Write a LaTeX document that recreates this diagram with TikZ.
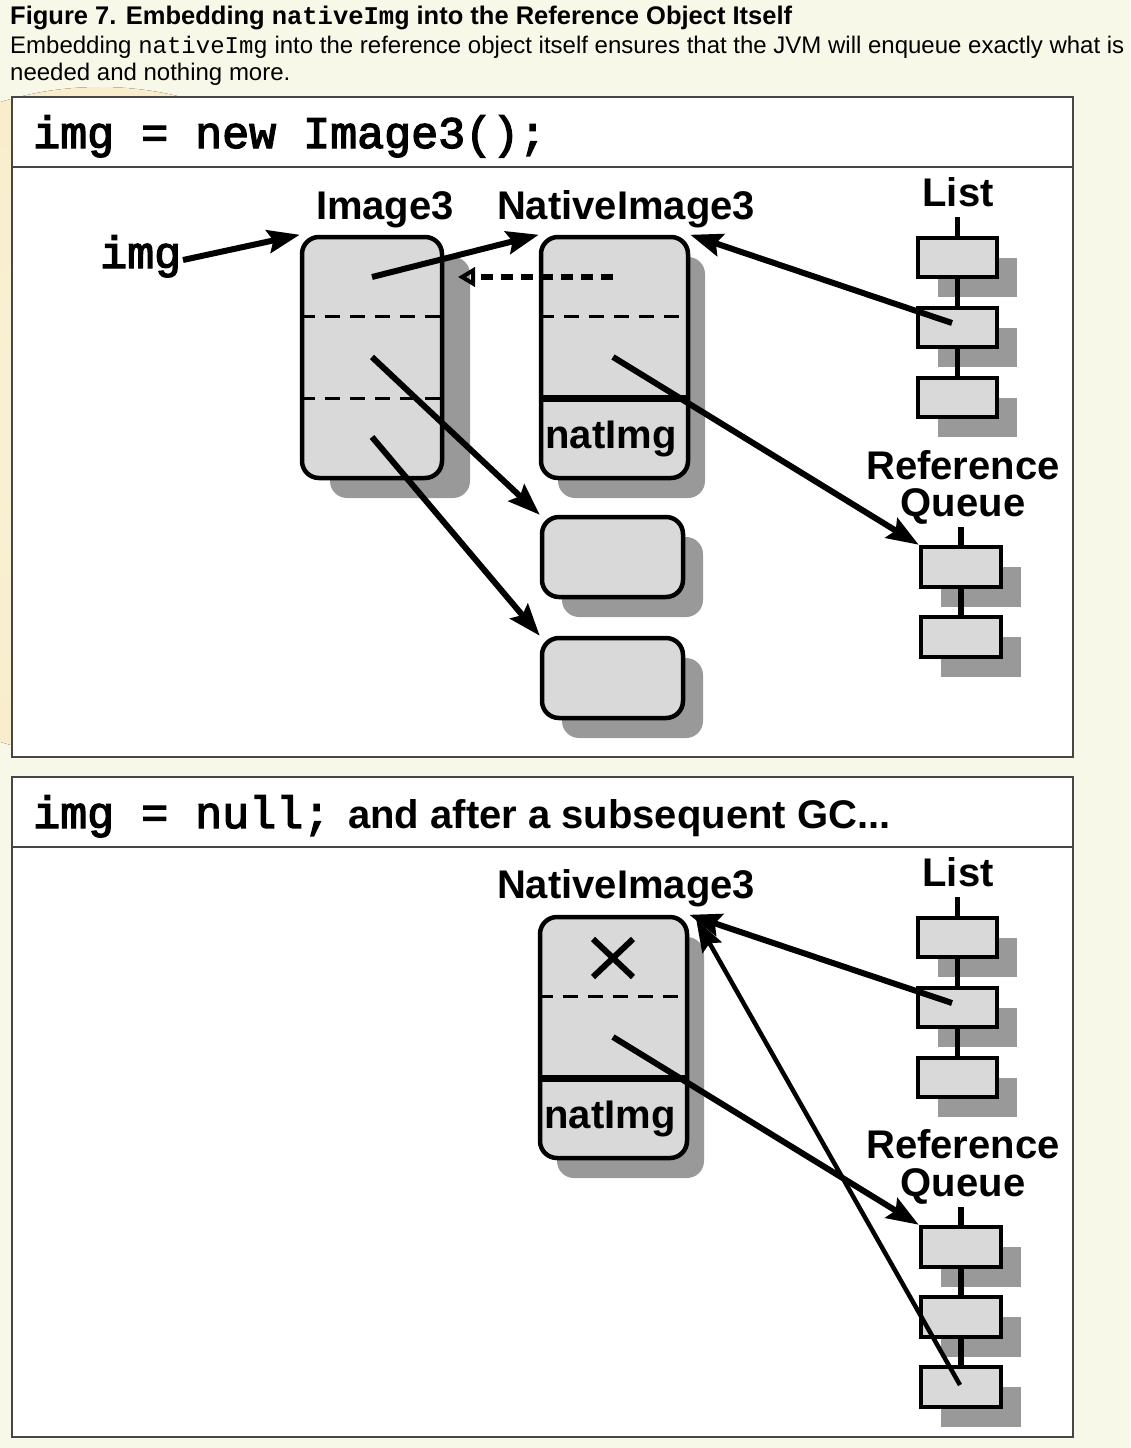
\documentclass[tikz,border=0pt]{standalone}
\usepackage{fontspec}
\setmainfont{Liberation Sans}
\setmonofont{Liberation Mono}
\newfontfamily\codefont[FakeBold=3]{Liberation Mono}
\usetikzlibrary{arrows.meta,shadows,calc}
\definecolor{bg}{RGB}{248,248,232}
\definecolor{boxgray}{RGB}{217,217,217}
\definecolor{shgray}{RGB}{153,153,153}
\definecolor{framec}{RGB}{70,70,70}
\definecolor{glowc}{RGB}{250,231,188}
\pgfdeclareradialshading{glow}{\pgfpoint{0bp}{0bp}}{color(0bp)=(glowc!40!bg); color(30bp)=(glowc!70!bg); color(42bp)=(glowc); color(50bp)=(bg)}
\begin{document}
\begin{tikzpicture}[x=1pt,y=-1pt,
  panel/.style={draw=framec, line width=2pt, fill=white},
  obj/.style={rectangle, draw=black, line width=4.5pt, fill=boxgray, rounded corners=17pt, inner sep=0pt,
     drop shadow={opacity=1, fill=shgray, shadow xshift=#1, shadow yshift=-20pt}},
  obj/.default=18pt,
  lbox/.style={rectangle, draw=black, line width=4.5pt, fill=boxgray, inner sep=0pt,
     minimum width=79pt, minimum height=39pt,
     drop shadow={opacity=1, fill=shgray, shadow xshift=20pt, shadow yshift=-20pt}},
  lab/.style={inner sep=0pt, font=\fontsize{40}{40}\selectfont\bfseries},
  code/.style={inner sep=0pt, font=\codefont\fontsize{45}{45}\selectfont},
  arr/.style={line width=6pt, -{Stealth[length=32pt,width=23pt,inset=5pt]}},
  thinarr/.style={line width=4.5pt, -{Stealth[length=32pt,width=22pt,inset=5pt]}},
  dashsep/.style={line width=3.5pt, dash pattern=on 15pt off 10pt},
  thicksep/.style={line width=6.5pt},
  link/.style={line width=5.5pt}]
\useasboundingbox (0,0) rectangle (1130,1448);
\fill[bg] (0,0) rectangle (1130,1448);
\begin{scope}
\clip (0,0) rectangle (1130,1448);
\fill[shading=glow] (100,422) circle (335pt);
\end{scope}

% caption
\node[anchor=base west, inner sep=0pt, font=\fontsize{25.5}{25.5}\selectfont\bfseries] (cap1) at (10,24)
  {Figure 7. Embedding {\ttfamily\bfseries nativeImg} into the Reference Object Itself};
\node[anchor=base west, inner sep=0pt, font=\fontsize{24}{24}\selectfont] (cap2) at (10,53)
  {Embedding {\ttfamily nativeImg} into the reference object itself ensures that the JVM will enqueue exactly what is};
\node[anchor=base west, inner sep=0pt, font=\fontsize{24}{24}\selectfont] (cap3) at (10,80)
  {needed and nothing more.};

% ---------------- panel 1 ----------------
\draw[panel] (12,97) rectangle (1073,757);
\draw[draw=framec, line width=2pt] (12,167) -- (1073,167);
\node[code, anchor=base west] (h1) at (33,148) {img = new Image3();};

\node[lab, anchor=base] (t1) at (385,219) {Image3};
\node[lab, anchor=base] (t2) at (626,219) {NativeImage3};
\node[lab, anchor=base] (t3) at (958,206) {List};
\node[lab, anchor=base] (t4) at (963,479) {Reference};
\node[lab, anchor=base] (t5) at (963,516) {Queue};
\node[code, anchor=base west] (imgl) at (100,268) {img};

\node[obj=28pt, minimum width=140pt, minimum height=241pt] (im3) at (372,357.5) {};
\node[obj=17pt, minimum width=147pt, minimum height=241pt] (na1) at (614.5,357.5) {};
\node[obj=20pt, minimum width=141pt, minimum height=80pt] (ba) at (612.5,557) {};
\node[obj=20pt, minimum width=141pt, minimum height=80pt] (bb) at (612.5,678) {};

\draw[dashsep] ($(im3.north west)!0.3333!(im3.south west)$) -- ($(im3.north east)!0.3333!(im3.south east)$);
\draw[dashsep] ($(im3.north west)!0.6667!(im3.south west)$) -- ($(im3.north east)!0.6667!(im3.south east)$);
\draw[dashsep] ($(na1.north west)!0.3333!(na1.south west)$) -- ($(na1.north east)!0.3333!(na1.south east)$);
\draw[thicksep] ($(na1.north west)!0.6667!(na1.south west)$) -- ($(na1.north east)!0.6667!(na1.south east)$);
\node[lab, anchor=base] (ni1) at (611,448) {natImg};

\node[lbox] (l1) at (957.5,257.5) {};
\node[lbox] (l2) at (957.5,327.5) {};
\node[lbox] (l3) at (957.5,397.5) {};
\coordinate (l0) at (957.5,217);
\draw[link] (l0) -- (l1.north);
\draw[link] (l1.south) -- (l2.north);
\draw[link] (l2.south) -- (l3.north);

\node[lbox, minimum width=80pt, minimum height=40pt] (q1) at (961,567) {};
\node[lbox, minimum width=80pt, minimum height=40pt] (q2) at (961,637) {};
\coordinate (q0) at (961,527);
\draw[link] (q0) -- (q1.north);
\draw[link] (q1.south) -- (q2.north);

\coordinate (s1) at (372,277);
\coordinate (s2) at (372,357);
\coordinate (s3) at (372,437);
\coordinate (s4) at (613,277);
\coordinate (s5) at (613,357);
\coordinate (s6) at (952,323);
\coordinate (d1) at (458,277);
\coordinate (imgend) at (183,260);

\draw[arr] (imgend) -- (im3.north west);
\draw[arr] (s1) -- (na1.north west);
\draw[arr] (s2) -- (ba.north west);
\draw[arr] (s3) -- (bb.north west);
\draw[arr] (s6) -- (na1.north east);
\draw[arr] (s5) -- (q1.north west);
\draw[line width=5.5pt, dash pattern=on 12pt off 8pt, -{Triangle[open,length=17pt,width=19pt,line width=4pt]}] (s4) -- (d1);

% ---------------- panel 2 ----------------
\draw[panel] (12,777) rectangle (1073,1437);
\draw[draw=framec, line width=2pt] (12,847) -- (1073,847);
\node[anchor=base west, inner sep=0pt] (h2) at (33,828)
  {{\codefont\fontsize{45}{45}\selectfont img = null;}\hspace{18pt}{\fontsize{40}{40}\selectfont\bfseries and after a subsequent GC...}};

\node[lab, anchor=base] (u2) at (626,898) {NativeImage3};
\node[lab, anchor=base] (u3) at (958,886) {List};
\node[lab, anchor=base] (u4) at (963,1158) {Reference};
\node[lab, anchor=base] (u5) at (963,1196) {Queue};

\node[obj=17pt, minimum width=147pt, minimum height=241pt] (na2) at (613.5,1037.5) {};
\draw[dashsep] ($(na2.north west)!0.3333!(na2.south west)$) -- ($(na2.north east)!0.3333!(na2.south east)$);
\draw[thicksep] ($(na2.north west)!0.6667!(na2.south west)$) -- ($(na2.north east)!0.6667!(na2.south east)$);
\node[lab, anchor=base] (ni2) at (610,1128) {natImg};
\coordinate (xc) at (613,958);
\draw[line width=6pt] ($(xc)+(-20,-19)$) -- ($(xc)+(20,19)$);
\draw[line width=6pt] ($(xc)+(-20,19)$) -- ($(xc)+(20,-19)$);

\node[lbox] (m1) at (957.5,937.5) {};
\node[lbox] (m2) at (957.5,1007.5) {};
\node[lbox] (m3) at (957.5,1077.5) {};
\coordinate (m0) at (957.5,897);
\draw[link] (m0) -- (m1.north);
\draw[link] (m1.south) -- (m2.north);
\draw[link] (m2.south) -- (m3.north);

\node[lbox, minimum width=80pt, minimum height=40pt] (r1) at (961,1247) {};
\node[lbox, minimum width=80pt, minimum height=40pt] (r2) at (961,1317) {};
\node[lbox, minimum width=80pt, minimum height=40pt] (r3) at (961,1387) {};
\coordinate (r0) at (961,1207);
\draw[link] (r0) -- (r1.north);
\draw[link] (r1.south) -- (r2.north);
\draw[link] (r2.south) -- (r3.north);

\coordinate (p1) at (952,1003);
\coordinate (p2) at (613,1037);
\coordinate (p3) at (960,1385);
\coordinate (tgt) at ($(na2.north east)+(7,5)$);
\draw[arr] (p1) -- (na2.north east);
\draw[arr] (p2) -- (r1.north west);
\draw[thinarr] (p3) -- (tgt);
\end{tikzpicture}
\end{document}
